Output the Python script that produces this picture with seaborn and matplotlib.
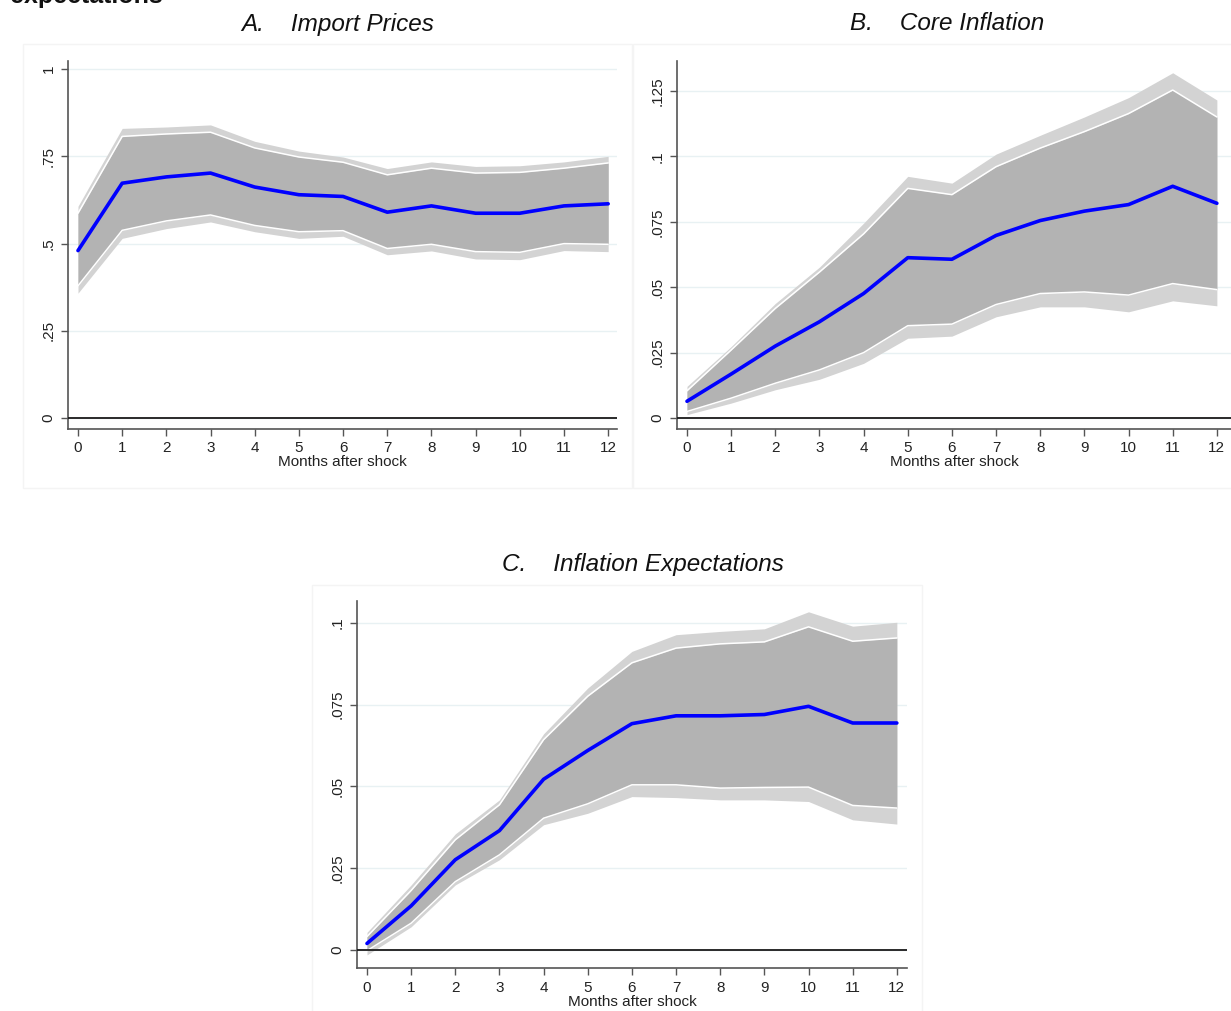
import numpy as np
import pandas as pd
import seaborn as sns
import matplotlib.pyplot as plt
from matplotlib.patches import Rectangle

sns.set_style("white")
plt.rcParams['font.family'] = ['Liberation Sans', 'DejaVu Sans']

months = list(range(13))

# A. Import prices
imp_mean = [0.480, 0.673, 0.691, 0.702, 0.662, 0.640, 0.635, 0.590, 0.608, 0.587, 0.587, 0.608, 0.614]
imp_hi90 = [0.587, 0.807, 0.814, 0.819, 0.774, 0.748, 0.733, 0.697, 0.716, 0.702, 0.704, 0.716, 0.731]
imp_lo90 = [0.379, 0.538, 0.565, 0.582, 0.552, 0.534, 0.537, 0.486, 0.498, 0.477, 0.475, 0.500, 0.498]
imp_hi95 = [0.607, 0.830, 0.834, 0.840, 0.793, 0.765, 0.748, 0.715, 0.734, 0.721, 0.723, 0.734, 0.750]
imp_lo95 = [0.358, 0.515, 0.543, 0.562, 0.534, 0.515, 0.521, 0.468, 0.479, 0.456, 0.454, 0.480, 0.477]

# B. Core inflation
core_mean = [0.0064, 0.0168, 0.0275, 0.0368, 0.0476, 0.0613, 0.0607, 0.0698, 0.0755, 0.0791, 0.0816, 0.0886, 0.0821]
core_hi90 = [0.0104, 0.0260, 0.0419, 0.0558, 0.0704, 0.0878, 0.0854, 0.0961, 0.1032, 0.1095, 0.1164, 0.1254, 0.1151]
core_lo90 = [0.0025, 0.0076, 0.0133, 0.0184, 0.0250, 0.0353, 0.0359, 0.0434, 0.0476, 0.0482, 0.0470, 0.0514, 0.0491]
core_hi95 = [0.0121, 0.0273, 0.0438, 0.0577, 0.0745, 0.0924, 0.0898, 0.1009, 0.1081, 0.1151, 0.1225, 0.1320, 0.1216]
core_lo95 = [0.0013, 0.0057, 0.0108, 0.0148, 0.0209, 0.0305, 0.0313, 0.0387, 0.0425, 0.0425, 0.0406, 0.0448, 0.0429]

# C. Inflation expectations
exp_mean = [0.0020, 0.0135, 0.0276, 0.0365, 0.0522, 0.0610, 0.0692, 0.0716, 0.0716, 0.0720, 0.0745, 0.0694, 0.0694]
exp_hi90 = [0.0041, 0.0182, 0.0337, 0.0444, 0.0643, 0.0776, 0.0878, 0.0923, 0.0936, 0.0942, 0.0988, 0.0944, 0.0954]
exp_lo90 = [-0.0002, 0.0082, 0.0209, 0.0291, 0.0403, 0.0447, 0.0505, 0.0505, 0.0495, 0.0497, 0.0498, 0.0442, 0.0434]
exp_hi95 = [0.0054, 0.0199, 0.0355, 0.0459, 0.0661, 0.0801, 0.0913, 0.0964, 0.0974, 0.0982, 0.1034, 0.0990, 0.1002]
exp_lo95 = [-0.0015, 0.0071, 0.0199, 0.0276, 0.0383, 0.0418, 0.0469, 0.0466, 0.0459, 0.0459, 0.0454, 0.0398, 0.0385]

imp_ticks = [0, 0.25, 0.5, 0.75, 1]
imp_labels = ["0", ".25", ".5", ".75", "1"]
core_ticks = [0, 0.025, 0.05, 0.075, 0.1, 0.125]
core_labels = ["0", ".025", ".05", ".075", ".1", ".125"]
exp_ticks = [0, 0.025, 0.05, 0.075, 0.1]
exp_labels = ["0", ".025", ".05", ".075", ".1"]

W, H = 1231, 1011
fig = plt.figure(figsize=(W / 100, H / 100), dpi=100)


def px_rect(x0, y0, x1, y1):
    # pixel box (top-left origin) -> figure fraction [l, b, w, h]
    return [x0 / W, 1 - y1 / H, (x1 - x0) / W, (y1 - y0) / H]


# faint Stata graph-region outlines
for x0, y0, x1, y1 in [(23, 44, 632, 488), (633, 44, 1236, 488), (312, 585, 922, 1012)]:
    l, b, w, h = px_rect(x0, y0, x1, y1)
    fig.patches.append(Rectangle((l, b), w, h, transform=fig.transFigure,
                                 fill=False, ec='#f4f4f4', lw=1.0))


def panel(rect, mean, lo90, hi90, lo95, hi95, ticks, labels, xlim, ylim):
    ax = fig.add_axes(px_rect(*rect))
    df = pd.DataFrame({"month": months, "mean": mean, "lo90": lo90, "hi90": hi90,
                       "lo95": lo95, "hi95": hi95})
    for t in ticks:
        ax.axhline(t, color='#e8f1f3', lw=1.0, zorder=0)
    ax.fill_between(df["month"], df["lo95"], df["hi95"], color='#d3d3d3', lw=0, zorder=1)
    ax.fill_between(df["month"], df["lo90"], df["hi90"], color='#b3b3b3', lw=0, zorder=2)
    ax.plot(df["month"], df["hi90"], color='white', lw=1.1, zorder=3)
    ax.plot(df["month"], df["lo90"], color='white', lw=1.1, zorder=3)
    ax.axhline(0, color='#1a1a1a', lw=1.3, zorder=4)
    sns.lineplot(data=df, x="month", y="mean", ax=ax, color='#0000ff', lw=2.6, zorder=5)
    ax.set_xlim(*xlim)
    ax.set_ylim(*ylim)
    ax.set_xticks(months)
    ax.set_xticklabels([str(m) for m in months], fontsize=11, color='#222222')
    ax.set_yticks(ticks)
    ax.set_yticklabels(labels, fontsize=11, color='#222222', rotation=90, va='center')
    ax.tick_params(axis='both', direction='out', length=5, width=1, color='#555555', pad=4,
                   bottom=True, left=True)
    ax.set_xlabel("Months after shock", fontsize=11, color='#222222', labelpad=0)
    ax.set_ylabel("")
    for s in ['top', 'right']:
        ax.spines[s].set_visible(False)
    for s in ['left', 'bottom']:
        ax.spines[s].set_color('#555555')
        ax.spines[s].set_linewidth(1.2)
    ax.set_facecolor('none')
    return ax


panel((68, 61, 617, 429), imp_mean, imp_lo90, imp_hi90, imp_lo95, imp_hi95,
      imp_ticks, imp_labels, (-0.226, 12.20), (-0.031, 1.023))
panel((677, 61, 1231, 429), core_mean, core_lo90, core_hi90, core_lo95, core_hi95,
      core_ticks, core_labels, (-0.226, 12.32), (-0.0042, 0.1365))
panel((357, 601, 907, 968), exp_mean, exp_lo90, exp_hi90, exp_lo95, exp_hi95,
      exp_ticks, exp_labels, (-0.226, 12.23), (-0.0055, 0.1067))

fig.text(338 / W, 1 - 24 / H, "A.    Import Prices", ha='center', va='center',
         fontsize=17.5, style='italic', color='#111111')
fig.text(947 / W, 1 - 24 / H, "B.    Core Inflation", ha='center', va='center',
         fontsize=17.5, style='italic', color='#111111')
fig.text(643 / W, 1 - 565 / H, "C.    Inflation Expectations", ha='center', va='center',
         fontsize=17.5, style='italic', color='#111111')
# heading cut off at the top edge, as in the source page
fig.text(10 / W, 1 - 3 / H, "expectations", ha='left', va='baseline',
         fontsize=18, fontweight='bold', color='#111111')

fig.savefig("out.png", dpi=100)
